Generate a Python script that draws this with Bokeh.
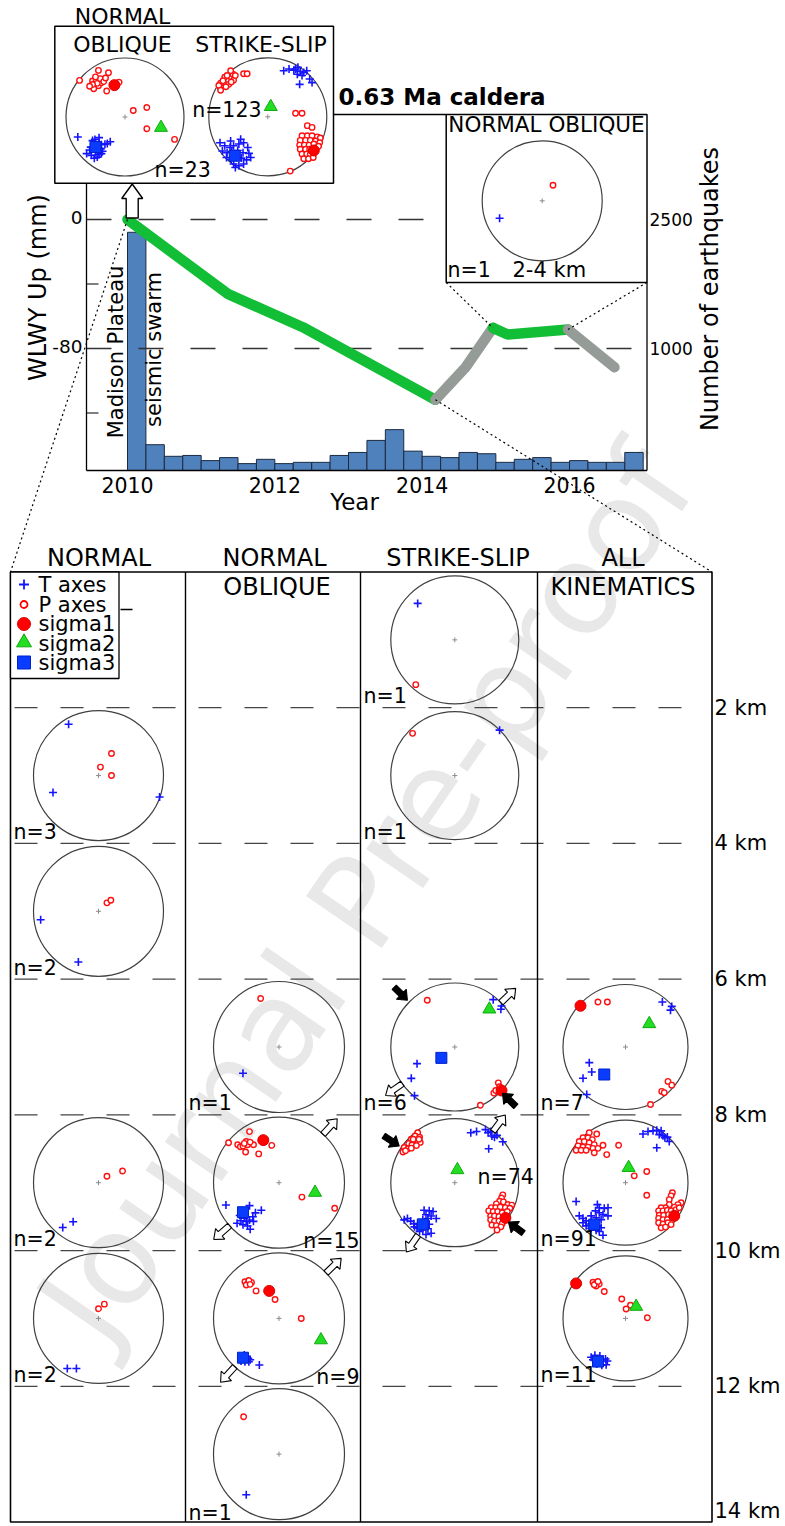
import math
from bokeh.plotting import figure
from bokeh.models import Range1d
from bokeh.core.properties import value
from bokeh.embed import file_html
from bokeh.resources import INLINE

FONT = "DejaVu Sans"

# =========================== DATA ===========================
# Quarterly number of earthquakes (bin start, decimal year)
eq_bin_start = [2010.0, 2010.25, 2010.5, 2010.75, 2011.0, 2011.25, 2011.5, 2011.75,
                2012.0, 2012.25, 2012.5, 2012.75, 2013.0, 2013.25, 2013.5, 2013.75,
                2014.0, 2014.25, 2014.5, 2014.75, 2015.0, 2015.25, 2015.5, 2015.75,
                2016.0, 2016.25, 2016.5, 2016.75]
eq_counts = [2770, 300, 165, 175, 115, 150, 80, 130, 80, 95, 95, 175, 210, 350,
             475, 225, 165, 150, 210, 195, 95, 130, 150, 95, 115, 95, 95, 210]
EQ_BIN_WIDTH = 0.25

# WLWY GPS vertical displacement (mm): subsidence (green) and gaps (gray)
wlwy_sub1_year = [2010.0, 2011.36, 2012.38, 2013.91, 2014.18]
wlwy_sub1_mm = [0.0, -46.1, -66.8, -105.0, -111.8]
wlwy_gap1_year = [2014.18, 2014.59, 2014.96]
wlwy_gap1_mm = [-111.8, -91.6, -67.2]
wlwy_sub2_year = [2014.96, 2015.16, 2015.98]
wlwy_sub2_mm = [-67.2, -71.3, -68.2]
wlwy_gap2_year = [2015.98, 2016.61]
wlwy_gap2_mm = [-68.2, -91.6]

year_ticks = [2010, 2012, 2014, 2016]
mm_ticks = [0, -80]
mm_minor_ticks = [-40, -120]
count_ticks = [2500, 1000]
depth_ticks = [2, 4, 6, 8, 10, 12, 14]
col_title_1 = ["NORMAL", "NORMAL", "STRIKE-SLIP", "ALL"]
col_title_2 = ["", "OBLIQUE", "", "KINEMATICS"]
legend_labels = ["T axes", "P axes", "sigma1", "sigma2", "sigma3"]

# ---- stereonet data: (u, v) on the unit projection circle ----
tl_no_T = [(-0.80, -0.34), (-0.58, -0.51), (-0.51, -0.38), (-0.44, -0.35), (-0.44, -0.45),
           (-0.50, -0.59), (-0.40, -0.62), (-0.34, -0.46), (-0.25, -0.42), (-0.65, -0.62),
           (-0.57, -0.65), (-0.47, -0.68), (-0.41, -0.54), (-0.46, -0.50), (-0.53, -0.46),
           (-0.38, -0.58), (-0.60, -0.56), (-0.44, -0.64), (-0.52, -0.70), (-0.30, -0.45),
           (-0.55, -0.40), (-0.48, -0.55), (-0.40, -0.47)]
tl_no_P = [(-0.77, 0.62), (-0.45, 0.79), (-0.28, 0.75), (-0.55, 0.61), (-0.49, 0.63),
           (-0.43, 0.61), (-0.51, 0.55), (-0.45, 0.53), (-0.40, 0.58), (-0.53, 0.48),
           (-0.31, 0.44), (-0.10, 0.59), (0.14, 0.11), (0.37, 0.16), (0.37, -0.20),
           (0.84, -0.38), (-0.47, 0.57), (-0.55, 0.55), (-0.42, 0.65), (-0.50, 0.68),
           (-0.36, 0.60), (-0.60, 0.52), (-0.33, 0.66)]
tl_no_s = [(-0.18, 0.54), (0.61, -0.18), (-0.50, -0.51)]

tl_ss_T = [(0.27, 0.78), (0.36, 0.81), (0.44, 0.79), (0.51, 0.84), (0.55, 0.77), (0.61, 0.75),
           (0.66, 0.78), (0.71, 0.64), (0.75, 0.58), (0.54, 0.55), (0.50, 0.72), (0.58, 0.70),
           (0.47, 0.81),
           (-0.81, -0.44), (-0.73, -0.49), (-0.64, -0.52), (-0.58, -0.49), (-0.49, -0.46),
           (-0.41, -0.44), (-0.34, -0.52), (-0.77, -0.58), (-0.69, -0.61), (-0.61, -0.59),
           (-0.51, -0.57), (-0.42, -0.61), (-0.32, -0.62), (-0.70, -0.69), (-0.62, -0.72),
           (-0.53, -0.69), (-0.45, -0.70), (-0.36, -0.73), (-0.58, -0.80), (-0.49, -0.83),
           (-0.41, -0.80), (-0.29, -0.69), (-0.46, -0.38), (-0.63, -0.41), (-0.55, -0.86)]
tl_ss_P = [(-0.80, 0.49), (-0.76, 0.54), (-0.71, 0.58), (-0.67, 0.62), (-0.62, 0.67),
           (-0.59, 0.72), (-0.63, 0.78), (-0.73, 0.67), (-0.69, 0.70), (-0.80, 0.57),
           (-0.76, 0.61), (-0.66, 0.55), (-0.58, 0.62), (-0.55, 0.70), (-0.41, 0.73),
           (-0.35, 0.73), (-0.83, 0.53), (-0.71, 0.51), (-0.62, 0.59), (-0.80, 0.45),
           (0.47, 0.06), (0.58, 0.06), (0.67, -0.15), (0.75, -0.18), (0.38, -0.92),
           (0.58, -0.32), (0.67, -0.32), (0.75, -0.32), (0.84, -0.34), (0.89, -0.36),
           (0.55, -0.40), (0.64, -0.40), (0.72, -0.40), (0.81, -0.41), (0.88, -0.44),
           (0.54, -0.48), (0.62, -0.48), (0.70, -0.48), (0.78, -0.46), (0.86, -0.50),
           (0.55, -0.55), (0.64, -0.55), (0.71, -0.55), (0.58, -0.63), (0.66, -0.63),
           (0.72, -0.64), (0.61, -0.71), (0.69, -0.71), (0.77, -0.69)]
tl_ss_s = [(0.78, -0.57), (0.05, 0.17), (-0.56, -0.66)]

cal_no_T = [(-0.71, -0.29)]
cal_no_P = [(0.18, 0.26)]

n_2_4_T = [(-0.46, 0.79), (-0.70, -0.26), (0.94, -0.33)]
n_2_4_P = [(0.20, 0.34), (0.03, 0.13), (0.20, 0.0)]
n_4_6_T = [(-0.89, -0.13), (-0.31, -0.78)]
n_4_6_P = [(0.13, 0.13), (0.19, 0.17)]
n_8_10_T = [(-0.55, -0.69), (-0.39, -0.60)]
n_8_10_P = [(0.13, 0.10), (0.37, 0.18)]
n_10_12_T = [(-0.48, -0.77), (-0.34, -0.77)]
n_10_12_P = [(0.0, 0.15), (0.09, 0.22)]

no_6_8_T = [(-0.55, -0.40)]
no_6_8_P = [(-0.28, 0.74)]
no_8_10_T = [(-0.81, -0.34), (-0.45, -0.35), (-0.36, -0.46), (-0.27, -0.42), (-0.64, -0.62),
             (-0.55, -0.64), (-0.50, -0.59), (-0.44, -0.71), (-0.39, -0.59), (-0.53, -0.54),
             (-0.45, -0.57), (-0.58, -0.58), (-0.48, -0.66), (-0.40, -0.52), (-0.60, -0.50)]
no_8_10_P = [(-0.77, 0.61), (-0.45, 0.78), (-0.63, 0.58), (-0.59, 0.55), (-0.55, 0.56),
             (-0.50, 0.63), (-0.48, 0.58), (-0.39, 0.58), (-0.51, 0.47), (-0.31, 0.44),
             (-0.11, 0.57), (0.35, -0.22), (0.85, -0.39), (-0.53, 0.60), (-0.44, 0.62)]
no_8_10_s = [(-0.24, 0.65), (0.55, -0.15), (-0.55, -0.45)]
no_10_12_T = [(-0.55, -0.60), (-0.44, -0.63), (-0.52, -0.66), (-0.58, -0.65), (-0.30, -0.71),
              (-0.49, -0.58), (-0.46, -0.66), (-0.53, -0.56), (-0.47, -0.61)]
no_10_12_P = [(-0.52, 0.56), (-0.47, 0.54), (-0.42, 0.55), (-0.50, 0.51), (-0.35, 0.42),
              (-0.06, 0.29), (0.34, 0.0), (-0.46, 0.58), (-0.44, 0.52)]
no_10_12_s = [(-0.15, 0.42), (0.64, -0.33), (-0.55, -0.60)]
no_12_14_T = [(-0.50, -0.62)]
no_12_14_P = [(-0.54, 0.57)]

ss_0_2_T = [(-0.58, 0.57)]
ss_0_2_P = [(-0.61, -0.70)]
ss_2_4_T = [(0.70, 0.71)]
ss_2_4_P = [(-0.66, 0.66)]
ss_6_8_T = [(0.60, 0.74), (0.73, 0.64), (0.72, 0.59), (-0.59, -0.26), (-0.68, -0.49), (-0.63, -0.76)]
ss_6_8_P = [(-0.43, 0.73), (0.68, -0.56), (0.61, -0.72), (0.40, -0.91), (0.70, -0.62), (0.64, -0.68)]
ss_6_8_s = [(0.73, -0.68), (0.54, 0.59), (-0.21, -0.17)]
ss_8_10_T = [(0.25, 0.78), (0.34, 0.80), (0.48, 0.83), (0.52, 0.78), (0.58, 0.73), (0.62, 0.71),
             (0.66, 0.74), (0.75, 0.64), (0.53, 0.53), (0.56, 0.80),
             (-0.48, -0.43), (-0.40, -0.44), (-0.34, -0.45), (-0.45, -0.50), (-0.37, -0.52),
             (-0.29, -0.56), (-0.42, -0.56), (-0.50, -0.58), (-0.74, -0.56), (-0.69, -0.60),
             (-0.64, -0.64), (-0.58, -0.65), (-0.53, -0.67), (-0.45, -0.66), (-0.40, -0.65),
             (-0.59, -0.71), (-0.50, -0.74), (-0.42, -0.72), (-0.37, -0.79), (-0.45, -0.81),
             (-0.55, -0.76), (-0.63, -0.69), (-0.79, -0.58)]
ss_8_10_P = [(-0.58, 0.78), (-0.62, 0.73), (-0.55, 0.71), (-0.68, 0.68), (-0.63, 0.66),
             (-0.58, 0.65), (-0.54, 0.63), (-0.72, 0.61), (-0.67, 0.59), (-0.60, 0.58),
             (-0.79, 0.55), (-0.73, 0.53), (-0.68, 0.54), (-0.81, 0.48), (-0.77, 0.50),
             (-0.56, 0.68), (-0.65, 0.68),
             (0.75, -0.19), (0.73, -0.24), (0.70, -0.29), (0.76, -0.30), (0.65, -0.33),
             (0.83, -0.34), (0.89, -0.35), (0.57, -0.39), (0.64, -0.39), (0.71, -0.38),
             (0.79, -0.39), (0.86, -0.40), (0.53, -0.44), (0.60, -0.45), (0.67, -0.45),
             (0.74, -0.47), (0.82, -0.45), (0.56, -0.52), (0.62, -0.52), (0.69, -0.53),
             (0.56, -0.58), (0.62, -0.60), (0.69, -0.60), (0.74, -0.64), (0.58, -0.66),
             (0.65, -0.67), (0.72, -0.69), (0.66, -0.74)]
ss_8_10_s = [(0.79, -0.55), (0.04, 0.20), (-0.50, -0.65)]

all_6_8_T = [(0.59, 0.72), (0.74, 0.65), (0.72, 0.59), (-0.58, -0.25), (-0.54, -0.40),
             (-0.68, -0.50), (-0.62, -0.76)]
all_6_8_P = [(-0.44, 0.72), (-0.29, 0.72), (0.68, -0.55), (0.74, -0.61), (0.58, -0.71),
             (0.62, -0.73), (0.40, -0.92)]
all_6_8_s = [(-0.72, 0.66), (0.38, 0.37), (-0.34, -0.44)]
all_8_10_T = [(0.28, 0.78), (0.36, 0.82), (0.44, 0.83), (0.50, 0.84), (0.54, 0.77), (0.60, 0.75),
              (0.63, 0.72), (0.67, 0.73), (0.70, 0.66), (0.50, 0.56), (0.57, 0.83),
              (-0.79, -0.30), (-0.45, -0.35), (-0.42, -0.40), (-0.34, -0.41), (-0.28, -0.40),
              (-0.48, -0.45), (-0.42, -0.48), (-0.36, -0.51), (-0.28, -0.53), (-0.55, -0.53),
              (-0.47, -0.56), (-0.39, -0.59), (-0.74, -0.53), (-0.68, -0.57), (-0.63, -0.61),
              (-0.58, -0.66), (-0.51, -0.67), (-0.44, -0.69), (-0.39, -0.72), (-0.63, -0.69),
              (-0.55, -0.73), (-0.47, -0.76), (-0.42, -0.78), (-0.36, -0.84), (-0.68, -0.64)]
all_8_10_P = [(-0.58, 0.80), (-0.46, 0.78), (-0.68, 0.72), (-0.60, 0.72), (-0.53, 0.69),
              (-0.74, 0.66), (-0.66, 0.66), (-0.58, 0.64), (-0.50, 0.61), (-0.76, 0.59),
              (-0.68, 0.57), (-0.60, 0.57), (-0.52, 0.55), (-0.79, 0.52), (-0.71, 0.52),
              (-0.63, 0.52), (-0.50, 0.48), (-0.44, 0.55), (-0.36, 0.60), (-0.30, 0.45),
              (-0.11, 0.60), (0.34, 0.18), (0.14, 0.11), (0.34, -0.20),
              (0.75, -0.16), (0.73, -0.21), (0.70, -0.27), (0.89, -0.32), (0.84, -0.35),
              (0.78, -0.39), (0.70, -0.35), (0.64, -0.40), (0.57, -0.40), (0.53, -0.45),
              (0.60, -0.45), (0.67, -0.44), (0.73, -0.45), (0.81, -0.43), (0.86, -0.40),
              (0.54, -0.52), (0.61, -0.52), (0.69, -0.51), (0.53, -0.57), (0.60, -0.59),
              (0.67, -0.59), (0.53, -0.64), (0.60, -0.66), (0.68, -0.64), (0.57, -0.72),
              (0.64, -0.71), (0.73, -0.67)]
all_8_10_s = [(0.78, -0.53), (0.05, 0.24), (-0.50, -0.67)]
all_10_12_T = [(-0.55, -0.62), (-0.49, -0.59), (-0.41, -0.60), (-0.32, -0.65), (-0.29, -0.68),
               (-0.46, -0.73), (-0.38, -0.75), (-0.31, -0.74), (-0.52, -0.66), (-0.43, -0.70),
               (-0.36, -0.66)]
all_10_12_P = [(-0.52, 0.58), (-0.47, 0.56), (-0.42, 0.55), (-0.47, 0.52), (-0.34, 0.43),
               (-0.06, 0.31), (0.08, 0.21), (0.01, 0.15), (0.35, 0.01), (-0.50, 0.54),
               (-0.44, 0.59)]
all_10_12_s = [(-0.79, 0.56), (0.17, 0.19), (-0.44, -0.69)]

# name, T axes, P axes, (sigma1, sigma2, sigma3) or None, number of events
NETS = [
    ("tl_no", tl_no_T, tl_no_P, tl_no_s, 23),
    ("tl_ss", tl_ss_T, tl_ss_P, tl_ss_s, 123),
    ("cal_no", cal_no_T, cal_no_P, None, 1),
    ("n_2_4", n_2_4_T, n_2_4_P, None, 3),
    ("n_4_6", n_4_6_T, n_4_6_P, None, 2),
    ("n_8_10", n_8_10_T, n_8_10_P, None, 2),
    ("n_10_12", n_10_12_T, n_10_12_P, None, 2),
    ("no_6_8", no_6_8_T, no_6_8_P, None, 1),
    ("no_8_10", no_8_10_T, no_8_10_P, no_8_10_s, 15),
    ("no_10_12", no_10_12_T, no_10_12_P, no_10_12_s, 9),
    ("no_12_14", no_12_14_T, no_12_14_P, None, 1),
    ("ss_0_2", ss_0_2_T, ss_0_2_P, None, 1),
    ("ss_2_4", ss_2_4_T, ss_2_4_P, None, 1),
    ("ss_6_8", ss_6_8_T, ss_6_8_P, ss_6_8_s, 6),
    ("ss_8_10", ss_8_10_T, ss_8_10_P, ss_8_10_s, 74),
    ("all_6_8", all_6_8_T, all_6_8_P, all_6_8_s, 7),
    ("all_8_10", all_8_10_T, all_8_10_P, all_8_10_s, 91),
    ("all_10_12", all_10_12_T, all_10_12_P, all_10_12_s, 11),
]
# kinematic column index and top of depth bin (km) for the grid nets
NET_CELL = {"n_2_4": (0, 2), "n_4_6": (0, 4), "n_8_10": (0, 8), "n_10_12": (0, 10),
            "no_6_8": (1, 6), "no_8_10": (1, 8), "no_10_12": (1, 10), "no_12_14": (1, 12),
            "ss_0_2": (2, 0), "ss_2_4": (2, 2), "ss_6_8": (2, 6), "ss_8_10": (2, 8),
            "all_6_8": (3, 6), "all_8_10": (3, 8), "all_10_12": (3, 10)}

# stress arrows: net, kind (P = compression, T = extension), azimuth (deg, ccw from east)
arrow_net = ["no_8_10", "no_8_10", "no_10_12", "no_10_12",
             "ss_6_8", "ss_6_8", "ss_6_8", "ss_6_8",
             "ss_8_10", "ss_8_10", "ss_8_10", "ss_8_10"]
arrow_kind = ["T", "T", "T", "T", "P", "P", "T", "T", "P", "P", "T", "T"]
arrow_az = [47.7, 221.0, 44.0, 227.5, 135.4, 315.8, 43.9, 215.0, 146.6, 323.7, 53.3, 235.0]

# =========================== LAYOUT ===========================
FIG_W, FIG_H = 785, 1526
X_LO, X_HI = 0.0, 785.0
Y_TOP, Y_BOT = 0.0, 1526.0

TS_L, TS_R, TS_T, TS_B = 86.0, 646.5, 183.0, 470.0
YR_REF, YR_REF_X, PX_PER_YR = 2010.0, 127.0, 73.67
MM_REF_Y, PX_PER_MM = 219.0, 1.6125
CNT_REF, CNT_REF_Y, PX_PER_CNT = 2500.0, 219.0, 129.0 / 1500.0

PANEL_L, PANEL_R, PANEL_T, PANEL_B = 10.0, 711.5, 571.5, 1521.5
PX_PER_KM = (PANEL_B - PANEL_T) / 14.0
COL_EDGES = [10.0, 185.0, 360.0, 537.0, 711.5]
COL_CX = [98.0, 278.5, 454.3, 625.0]
COL_R = [65.0, 65.5, 64.0, 62.5]

INSET_POS = {"tl_no": (124.5, 116.5, 59.0), "tl_ss": (267.3, 116.3, 59.0),
             "cal_no": (541.7, 200.3, 60.0)}
INSET_NLABEL = {"tl_no": (154.0, 169.0), "tl_ss": (191.7, 109.5), "cal_no": (447.0, 269.0)}
GRID_LABEL_MODE = {"no_8_10": "br", "no_10_12": "br", "no_12_14": "low", "ss_8_10": "mid"}


def x_of_year(t):
    return YR_REF_X + (t - YR_REF) * PX_PER_YR


def year_of_x(X):
    return YR_REF + (X - YR_REF_X) / PX_PER_YR


def y_of_mm(m):
    return MM_REF_Y - m * PX_PER_MM


def mm_of_y(Y):
    return (MM_REF_Y - Y) / PX_PER_MM


def cnt_of_y(Y):
    return CNT_REF + (CNT_REF_Y - Y) / PX_PER_CNT


def y_of_km(d):
    return PANEL_T + d * PX_PER_KM


def km_of_y(Y):
    return (Y - PANEL_T) / PX_PER_KM


p = figure(width=FIG_W, height=FIG_H, title=None,
           x_range=Range1d(X_LO, X_HI), y_range=Range1d(Y_BOT, Y_TOP),
           x_axis_type=None, y_axis_type=None, output_backend="svg",
           toolbar_location=None, min_border=0)
p.outline_line_color = None
p.background_fill_color = "white"
p.border_fill_color = "white"
p.extra_x_ranges = {"yr": Range1d(year_of_x(X_LO), year_of_x(X_HI))}
p.extra_y_ranges = {"mm": Range1d(mm_of_y(Y_BOT), mm_of_y(Y_TOP)),
                    "cnt": Range1d(cnt_of_y(Y_BOT), cnt_of_y(Y_TOP)),
                    "km": Range1d(km_of_y(Y_BOT), km_of_y(Y_TOP))}


def put_text(xs, ys, texts, size, align="left", baseline="middle", angle=0.0,
             color="black", style="normal", **kw):
    p.text(x=xs, y=ys, text=texts, text_font=value(FONT), text_font_size=value(f"{size}px"),
           text_align=align, text_baseline=baseline, angle=angle, text_color=color,
           text_font_style=style, **kw)


# ---------- watermark ----------
put_text([366.0], [893.0], ["Journal Pre-proof"], 126, align="center",
         angle=math.radians(55.5), color="#e8e8e8")

# ---------- time series ----------
CNT_FLOOR = cnt_of_y(TS_B)
p.vbar(x=[b + EQ_BIN_WIDTH / 2 for b in eq_bin_start], width=EQ_BIN_WIDTH,
       bottom=CNT_FLOOR, top=[CNT_FLOOR + c for c in eq_counts],
       x_range_name="yr", y_range_name="cnt",
       fill_color="#4f81bd", line_color="#1c2a40", line_width=1)

p.segment(x0=[TS_L] * 2, x1=[TS_R] * 2, y0=mm_ticks, y1=mm_ticks, y_range_name="mm",
          line_color="#333333", line_width=1.3, line_dash="25 27")
p.segment(x0=[TS_L] * 2, x1=[TS_L + 12] * 2, y0=mm_minor_ticks, y1=mm_minor_ticks,
          y_range_name="mm", line_color="black", line_width=1.2)

for xs, ys, col in [(wlwy_sub1_year, wlwy_sub1_mm, "#12be36"),
                    (wlwy_gap1_year, wlwy_gap1_mm, "#959b97"),
                    (wlwy_sub2_year, wlwy_sub2_mm, "#12be36"),
                    (wlwy_gap2_year, wlwy_gap2_mm, "#959b97")]:
    p.line(xs, ys, x_range_name="yr", y_range_name="mm", line_color=col, line_width=10.5,
           line_cap="round", line_join="round")

# axes lines
p.segment(x0=[TS_L, TS_L, TS_R], y0=[TS_T, TS_B, 282.0], x1=[TS_L, TS_R, TS_R],
          y1=[TS_B, TS_B, TS_B], line_color="black", line_width=1.3)

# tick labels and axis titles
put_text(year_ticks, [484.0] * len(year_ticks), [str(t) for t in year_ticks], 20.5,
         align="center", x_range_name="yr")
put_text([82.0] * len(mm_ticks), [m + 1.4 for m in mm_ticks], [str(m) for m in mm_ticks], 18.5,
         align="right", y_range_name="mm")
put_text([649.0] * len(count_ticks), count_ticks, [str(c) for c in count_ticks], 17,
         y_range_name="cnt")
put_text([354.0], [501.5], ["Year"], 23, align="center")
put_text([37.5], [287.0], ["WLWY Up (mm)"], 24, align="center", angle=math.pi / 2)
put_text([709.5], [288.5], ["Number of earthquakes"], 24, align="center", angle=math.pi / 2)
put_text([115.5], [351.5], ["Madison Plateau"], 21, align="center", angle=math.pi / 2)
put_text([153.0], [349.0], ["seismic swarm"], 21, align="center", angle=math.pi / 2)

# dotted connectors
sx0, sy0 = x_of_year(wlwy_sub1_year[0]), y_of_mm(wlwy_sub1_mm[0])
ex0, ey0 = x_of_year(wlwy_sub1_year[-1]), y_of_mm(wlwy_sub1_mm[-1])
gx0, gy0 = x_of_year(wlwy_sub2_year[0]), y_of_mm(wlwy_sub2_mm[0])
gx1, gy1 = x_of_year(wlwy_sub2_year[-1]), y_of_mm(wlwy_sub2_mm[-1])
p.segment(x0=[sx0, ex0, 445.7, 646.5], y0=[sy0, ey0, 282.0, 282.0],
          x1=[PANEL_L, PANEL_R, gx0, gx1], y1=[PANEL_T, PANEL_T, gy0, gy1],
          line_color="black", line_width=1.2, line_dash="2 3")


def block_arrow(x0, y0, x1, y1, shaft, head_w, head_l):
    L = math.hypot(x1 - x0, y1 - y0)
    ux, uy = (x1 - x0) / L, (y1 - y0) / L
    nx, ny = -uy, ux
    bx, by = x1 - ux * head_l, y1 - uy * head_l
    xs = [x0 + nx * shaft, bx + nx * shaft, bx + nx * head_w, x1, bx - nx * head_w,
          bx - nx * shaft, x0 - nx * shaft]
    ys = [y0 + ny * shaft, by + ny * shaft, by + ny * head_w, y1, by - ny * head_w,
          by - ny * shaft, y0 - ny * shaft]
    return xs, ys


# open arrow from the swarm bar to the inset
ax = x_of_year(eq_bin_start[0]) + 4.7
axs, ays = block_arrow(ax, 217.5, ax, 183.5, 6.0, 10.5, 14.5)
p.patch(axs, ays, fill_color="white", line_color="black", line_width=1.4)

# ---------- inset boxes ----------
p.quad(left=[54.3, 445.7], right=[333.0, 646.5], top=[25.7, 114.0], bottom=[182.7, 282.0],
       fill_color="white", line_color="black", line_width=1.5)
p.segment(x0=[333.0], y0=[114.0], x1=[445.7], y1=[114.0], line_color="black", line_width=1.3)
put_text([122.0], [15.7], ["NORMAL"], 22, align="center")
put_text([122.0, 260.5], [43.7, 43.7], ["OBLIQUE", "STRIKE-SLIP"], 22, align="center")
put_text([546.0], [124.0], ["NORMAL OBLIQUE"], 21.5, align="center")
put_text([512.0], [269.0], ["2-4 km"], 21)
put_text([338.0], [96.0], ["0.63 Ma caldera"], 23, style="bold")

# ---------- depth panel ----------
p.segment(x0=[14.0] * 6, x1=[700.0] * 6, y0=depth_ticks[:-1], y1=depth_ticks[:-1],
          y_range_name="km", line_color="#444444", line_width=1.3, line_dash="23 23")
p.quad(left=[PANEL_L], right=[PANEL_R], top=[PANEL_T], bottom=[PANEL_B],
       fill_color=None, line_color="black", line_width=1.6)
p.segment(x0=COL_EDGES[1:4], y0=[PANEL_T] * 3, x1=COL_EDGES[1:4], y1=[PANEL_B] * 3,
          line_color="black", line_width=1.4)
put_text([714.0] * (len(depth_ticks) - 1), depth_ticks[:-1],
         [f"{d} km" for d in depth_ticks[:-1]], 21, y_range_name="km")
put_text([714.0], [depth_ticks[-1]], [f"{depth_ticks[-1]} km"], 21, y_range_name="km",
         y_offset=-11)
HEAD_X = [98.5, 274.0, 457.5, 622.5]
put_text(HEAD_X, [557.0] * 4, col_title_1, 24, align="center")
put_text([276.5, 622.5], [586.5, 586.5], [col_title_2[1], col_title_2[3]], 24, align="center")

# legend
p.quad(left=[PANEL_L], right=[118.5], top=[PANEL_T], bottom=[678.0],
       fill_color="white", line_color="black", line_width=1.3)
p.segment(x0=[120.0], y0=[609.0], x1=[132.0], y1=[609.0], line_color="black", line_width=1.3)
LEG_Y = [584.0, 604.0, 623.5, 643.0, 662.0]
LEG_X = 23.5
p.scatter([LEG_X], [LEG_Y[0]], marker="cross", size=10, line_color="#1414ff", line_width=1.8)
p.scatter([LEG_X], [LEG_Y[1]], marker="circle", size=7, line_color="#ff0000",
          fill_color="white", line_width=1.8)
p.scatter([LEG_X], [LEG_Y[2]], marker="circle", size=13, line_color="#e00000",
          fill_color="#ff0000")
p.scatter([LEG_X], [LEG_Y[3] - 1], marker="triangle", size=15, line_color="#11aa11",
          fill_color="#22dd22")
p.scatter([LEG_X], [LEG_Y[4]], marker="square", size=13, line_color="#0022cc",
          fill_color="#0a3cff")
put_text([38.0] * 5, LEG_Y, legend_labels, 21)


# ---------- stereonets ----------
def net_geom(name):
    if name in INSET_POS:
        return INSET_POS[name]
    col, dtop = NET_CELL[name]
    return COL_CX[col], y_of_km(dtop + 1.0), COL_R[col]


def nlabel_pos(name):
    if name in INSET_NLABEL:
        x, y = INSET_NLABEL[name]
        return x, y, "left"
    col, dtop = NET_CELL[name]
    cx, cy, r = net_geom(name)
    cell_bottom = y_of_km(dtop + 2.0)
    mode = GRID_LABEL_MODE.get(name, "bl")
    if mode == "br":
        return COL_EDGES[col + 1] - 1.0, cell_bottom - 9.5, "right"
    if mode == "mid":
        return cx + 22.7, cy - 6.0, "left"
    if mode == "low":
        return COL_EDGES[col] + 3.0, cell_bottom - 9.0, "left"
    return COL_EDGES[col] + 3.0, cell_bottom - 11.5, "left"


cxs, cys, rs = [], [], []
tx, ty, px, py = [], [], [], []
s1x, s1y, s2x, s2y, s3x, s3y = [], [], [], [], [], []
lab_l = ([], [], [])
lab_r = ([], [], [])
for name, T, P, S, n in NETS:
    cx, cy, r = net_geom(name)
    cxs.append(cx)
    cys.append(cy)
    rs.append(r)
    for u, v in T:
        tx.append(cx + r * u)
        ty.append(cy - r * v)
    for u, v in P:
        px.append(cx + r * u)
        py.append(cy - r * v)
    if S is not None:
        s1x.append(cx + r * S[0][0]); s1y.append(cy - r * S[0][1])
        s2x.append(cx + r * S[1][0]); s2y.append(cy - r * S[1][1])
        s3x.append(cx + r * S[2][0]); s3y.append(cy - r * S[2][1])
    lx, ly, al = nlabel_pos(name)
    tgt = lab_l if al == "left" else lab_r
    tgt[0].append(lx)
    tgt[1].append(ly)
    tgt[2].append(f"n={n}")

p.circle(x=cxs, y=cys, radius=rs, fill_color=None, line_color="#404040", line_width=1.2)
p.scatter(cxs, cys, marker="cross", size=5, line_color="#8c8c8c", line_width=1)
p.scatter(tx, ty, marker="cross", size=8, line_color="#1414ff", line_width=1.6)
p.scatter(px, py, marker="circle", size=5.5, line_color="#ff1010", fill_color="white",
          line_width=1.4)
p.scatter(s1x, s1y, marker="circle", size=11, line_color="#dd0000", fill_color="#ff0000")
p.scatter(s2x, s2y, marker="triangle", size=13, line_color="#11aa11", fill_color="#22dd22")
p.scatter(s3x, s3y, marker="square", size=11, line_color="#0022cc", fill_color="#0a3cff")

put_text(list(lab_l[0]), list(lab_l[1]), list(lab_l[2]), 20.5)
put_text(list(lab_r[0]), list(lab_r[1]), list(lab_r[2]), 20.5, align="right")

# stress arrows
open_xs, open_ys, fill_xs, fill_ys = [], [], [], []
for name, kind, az in zip(arrow_net, arrow_kind, arrow_az):
    cx, cy, r = net_geom(name)
    a = math.radians(az)
    if kind == "T":
        d0, d1 = 1.0 * r, 1.32 * r
    else:
        d0, d1 = 1.33 * r, 1.04 * r
    xs, ys = block_arrow(cx + d0 * math.cos(a), cy - d0 * math.sin(a),
                         cx + d1 * math.cos(a), cy - d1 * math.sin(a), 3.0, 7.0, 8.5)
    if kind == "T":
        open_xs.append(xs); open_ys.append(ys)
    else:
        fill_xs.append(xs); fill_ys.append(ys)
p.patches(open_xs, open_ys, fill_color="white", line_color="black", line_width=1.1)
p.patches(fill_xs, fill_ys, fill_color="black", line_color="black", line_width=1.1)

open("out.html", "w").write(file_html(p, INLINE, title="WLWY deformation and stress inversions"))
